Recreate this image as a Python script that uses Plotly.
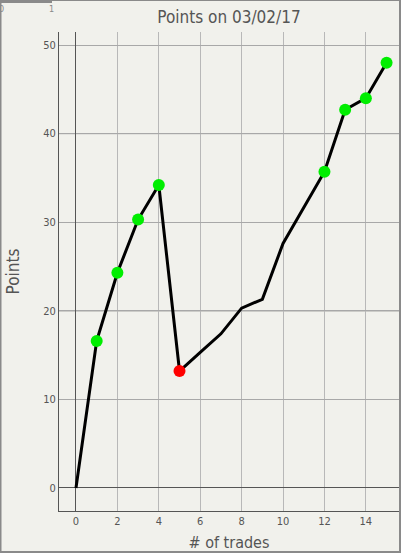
import plotly.graph_objects as go

# data
trades = list(range(16))
points = [0, 16.6, 24.3, 30.3, 34.2, 13.2, 15.3, 17.4, 20.3, 21.3, 27.6, 31.7, 35.7, 42.7, 44.0, 48.0]
marker_colors = [None, "#00ee00", "#00ee00", "#00ee00", "#00ee00", "#ff0000", None, None,
                 None, None, None, None, "#00ee00", "#00ee00", "#00ee00", "#00ee00"]

title_text = "Points on 03/02/17"
x_title = "# of trades"
y_title = "Points"
y_ticks = [0, 10, 20, 30, 40, 50]
x_ticks = [0, 2, 4, 6, 8, 10, 12, 14]
dark_grid_y = [20, 40]

FONT = "Tahoma, DejaVu Sans Condensed, DejaVu Sans, sans-serif"

mx = [x for x, c in zip(trades, marker_colors) if c]
my = [y for y, c in zip(points, marker_colors) if c]
mc = [c for c in marker_colors if c]

fig = go.Figure()
fig.add_trace(go.Scatter(x=trades, y=points, mode="lines",
                         line=dict(color="black", width=3), hoverinfo="skip"))
fig.add_trace(go.Scatter(x=mx, y=my, mode="markers",
                         marker=dict(color=mc, size=12, line=dict(width=0))))

W, H = 401, 553
L, R, T, B = 59, 2, 32, 42
pw, ph = W - L - R, H - T - B

def px(x):
    return (x - L) / pw

def py(y):
    return (H - B - y) / ph

shapes = []
for v in dark_grid_y:
    shapes.append(dict(type="line", xref="paper", yref="y", x0=0, x1=1, y0=v, y1=v,
                       line=dict(color="#6e6e6e", width=1), layer="between"))
# figure border
border = "#8a8a8a"
shapes += [
    dict(type="line", xref="paper", yref="paper", x0=px(0.5), x1=px(0.5), y0=py(0), y1=py(552),
         line=dict(color=border, width=2)),
    dict(type="line", xref="paper", yref="paper", x0=px(400), x1=px(400), y0=py(0), y1=py(552),
         line=dict(color=border, width=2)),
    dict(type="line", xref="paper", yref="paper", x0=px(0), x1=px(401), y0=py(552), y1=py(552),
         line=dict(color=border, width=2)),
    dict(type="line", xref="paper", yref="paper", x0=px(0), x1=px(401), y0=py(0.5), y1=py(0.5),
         line=dict(color=border, width=1)),
    dict(type="rect", xref="paper", yref="paper", x0=px(0), x1=px(52), y0=py(0), y1=py(3),
         line=dict(width=0), fillcolor="#8a8a8a"),
]

annotations = [
    dict(text="0", xref="paper", yref="paper", x=px(1), y=py(2), showarrow=False,
         xanchor="center", yanchor="top", font=dict(size=9, color="#888", family=FONT)),
    dict(text="1", xref="paper", yref="paper", x=px(51), y=py(2), showarrow=False,
         xanchor="center", yanchor="top", font=dict(size=9, color="#888", family=FONT)),
]

fig.update_layout(
    width=W, height=H,
    margin=dict(l=L, r=R, t=T, b=B),
    paper_bgcolor="#f1f1ec", plot_bgcolor="#f1f1ec",
    showlegend=False,
    font=dict(family=FONT, color="#444"),
    title=dict(text=title_text, xref="paper", x=0.5, xanchor="center", y=1 - 17 / H,
               yanchor="middle", font=dict(size=17, color="#555", family=FONT)),
    shapes=shapes, annotations=annotations,
    xaxis=dict(range=[-0.82, 15.6], tickvals=x_ticks, showgrid=True, gridcolor="#b8b8b8",
               gridwidth=1, zeroline=True, zerolinecolor="#555", zerolinewidth=1,
               showline=True, linecolor="#555", linewidth=1, ticks="",
               tickfont=dict(size=11, color="#555"),
               title=dict(text=x_title, font=dict(size=16, color="#555"), standoff=9)),
    yaxis=dict(range=[-2.6, 51.47], tickvals=y_ticks, showgrid=True, gridcolor="#a8a8a8",
               gridwidth=1, zeroline=True, zerolinecolor="#555", zerolinewidth=1,
               showline=True, linecolor="#555", linewidth=1, ticks="",
               tickfont=dict(size=11, color="#555"),
               title=dict(text=y_title, font=dict(size=17, color="#555"), standoff=19)),
)

fig.write_html("out.html", config={"displayModeBar": False},
               post_script="document.body.style.margin='0';document.body.style.overflow='hidden';")
